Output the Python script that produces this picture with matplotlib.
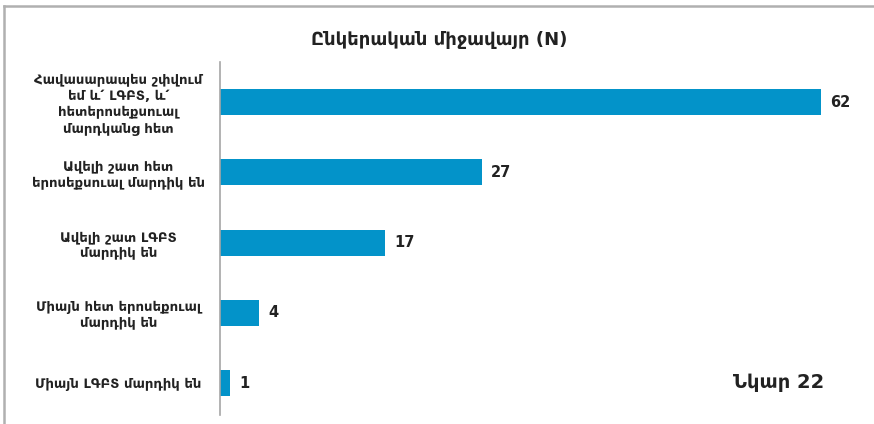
import matplotlib.pyplot as plt
from matplotlib.lines import Line2D

# ---- data ----
categories = [
    "Հավասարապես շփվում\nեմ և՛ ԼԳԲՏ, և՛\nհետերոսեքսուալ\nմարդկանց հետ",
    "Ավելի շատ հետ\nերոսեքսուալ մարդիկ են",
    "Ավելի շատ ԼԳԲՏ\nմարդիկ են",
    "Միայն հետ երոսեքուալ\nմարդիկ են",
    "Միայն ԼԳԲՏ մարդիկ են",
]
values = [62, 27, 17, 4, 1]
title = "Ընկերական միջավայր (N)"
fig_label = "Նկար 22"

BAR_COLOR = '#0393c9'
plt.rcParams['font.family'] = ['DejaVu Sans']

W, H = 874, 424
fig = plt.figure(figsize=(W / 100, H / 100), dpi=100)
ax = fig.add_axes([220 / W, 9 / H, 640 / W, 353 / H])

pos = list(range(len(values)))
ax.barh(pos, values, height=0.37, color=BAR_COLOR)
ax.set_xlim(0, 66)
ax.set_ylim(4.455, -0.57)

for p, v in zip(pos, values):
    ax.text(v + 0.95, p, str(v), va='center', ha='left', fontsize=10.5,
            fontweight='bold', color='#222222')

ax.set_yticks(pos)
ax.set_yticklabels(categories, fontsize=9.5, fontweight='bold', color='#222222',
                   linespacing=1.3)
for lbl in ax.get_yticklabels():
    lbl.set_horizontalalignment('center')
    lbl.set_multialignment('center')
ax.tick_params(axis='y', length=0, pad=73)
ax.set_xticks([])

for s in ['top', 'right', 'bottom']:
    ax.spines[s].set_visible(False)
ax.spines['left'].set_color('#a6a6a6')
ax.spines['left'].set_linewidth(1.2)

fig.text(439 / W, 1 - 40 / H, title, ha='center', va='center', fontsize=13,
         fontweight='bold', color='#222222')
fig.text(779 / W, 1 - 382 / H, fig_label, ha='center', va='center', fontsize=14,
         fontweight='bold', color='#222222')

# outer frame (top and left edges only visible)
fig.add_artist(Line2D([4 / W, 1], [1 - 6 / H, 1 - 6 / H], transform=fig.transFigure,
                      color='#b0b0b0', lw=1.8))
fig.add_artist(Line2D([4 / W, 4 / W], [0, 1 - 6 / H], transform=fig.transFigure,
                      color='#b0b0b0', lw=1.8))

fig.savefig('out.png', dpi=100)
